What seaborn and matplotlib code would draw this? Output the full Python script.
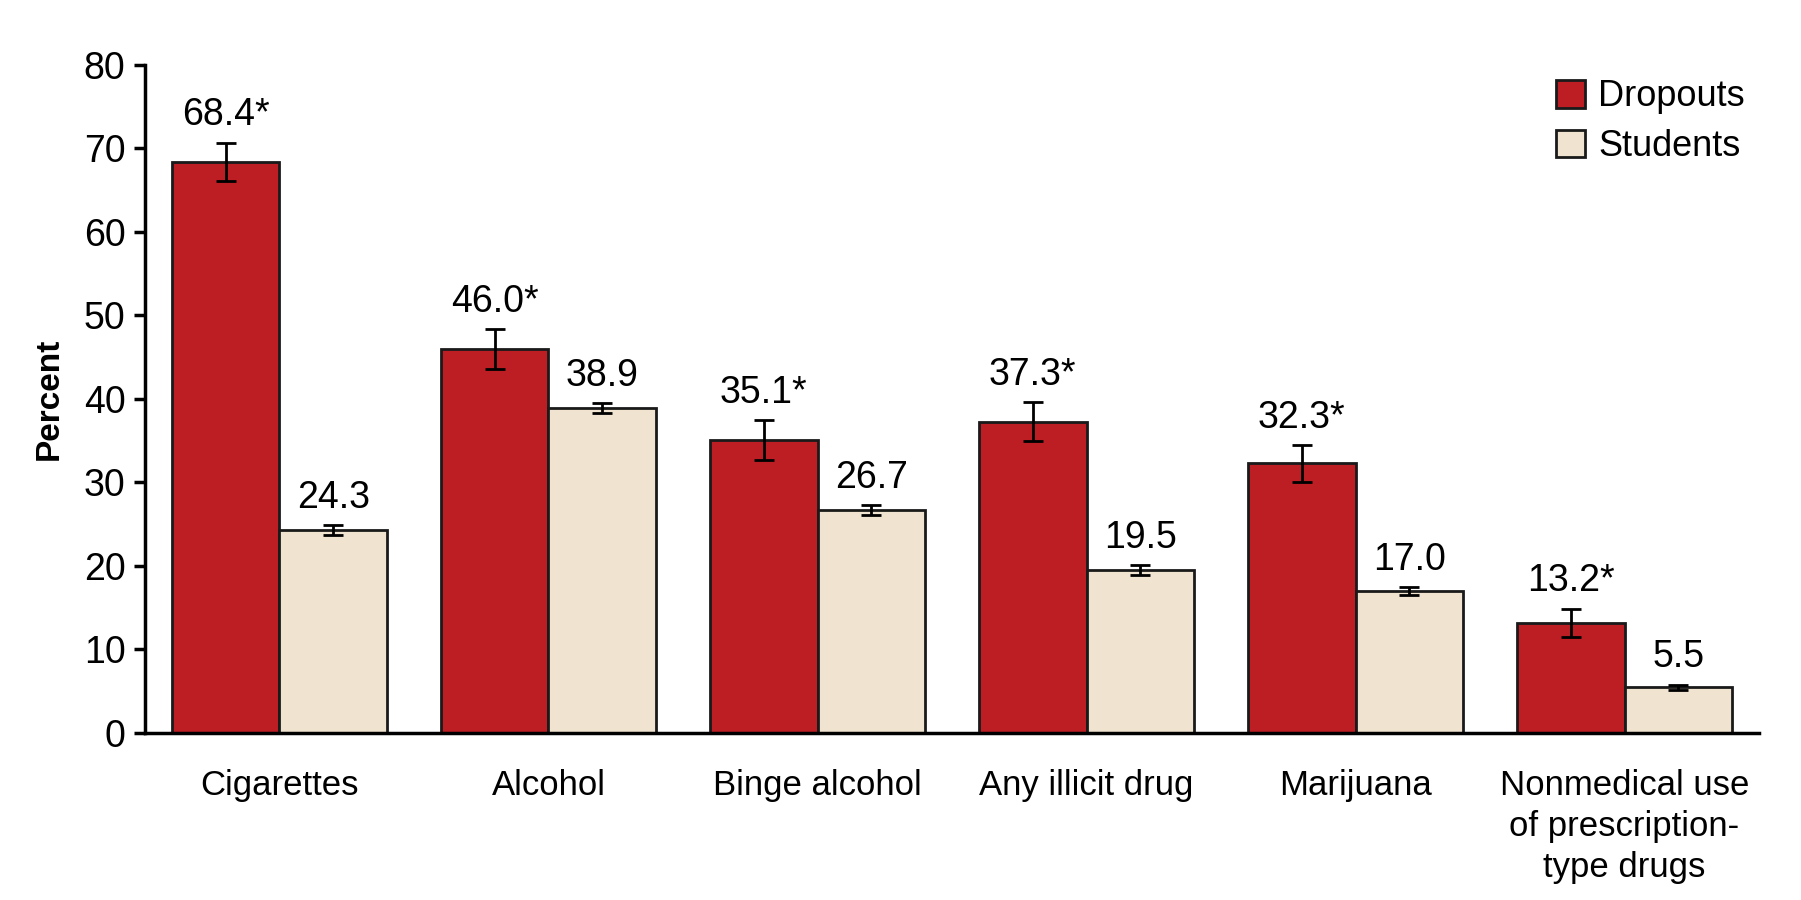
import matplotlib
matplotlib.use("Agg")
import matplotlib.pyplot as plt
from matplotlib import font_manager
import seaborn as sns
import pandas as pd

# data
categories = ['Cigarettes', 'Alcohol', 'Binge alcohol', 'Any illicit drug',
              'Marijuana', 'Nonmedical use\nof prescription-\ntype drugs']
dropouts = [68.4, 46.0, 35.1, 37.3, 32.3, 13.2]
students = [24.3, 38.9, 26.7, 19.5, 17.0, 5.5]
dropouts_err = [2.3, 2.4, 2.4, 2.3, 2.2, 1.7]
students_err = [0.6, 0.6, 0.6, 0.6, 0.5, 0.3]
dropouts_sig = [True, True, True, True, True, True]

sns.set_theme(style='white')
names = {f.name for f in font_manager.fontManager.ttflist}
fam = 'Liberation Sans Narrow' if 'Liberation Sans Narrow' in names else 'Liberation Sans'
plt.rcParams['font.family'] = [fam, 'DejaVu Sans']
plt.rcParams['text.color'] = 'black'
plt.rcParams['xtick.color'] = 'black'
plt.rcParams['ytick.color'] = 'black'
plt.rcParams['axes.labelcolor'] = 'black'

df = pd.DataFrame({
    'category': categories * 2,
    'value': dropouts + students,
    'group': ['Dropouts'] * len(categories) + ['Students'] * len(categories),
})

fig = plt.figure(figsize=(18.01, 9), dpi=100)
ax = fig.add_axes([0.0805, 0.1856, 0.8962, 0.7422])

sns.barplot(data=df, x='category', y='value', hue='group',
            palette={'Dropouts': '#BC1E24', 'Students': '#F0E4D0'},
            edgecolor='#1a1a1a', linewidth=2, errorbar=None, width=0.8,
            saturation=1, ax=ax)

# error bars and value labels on top of each bar
bars = ax.patches[:len(categories) * 2]
vals = dropouts + students
errs = dropouts_err + students_err
labels = [f'{v:.1f}' + ('*' if s else '') for v, s in zip(dropouts, dropouts_sig)] + \
         [f'{v:.1f}' for v in students]
for p, v, e, lab in zip(bars, vals, errs, labels):
    cx = p.get_x() + p.get_width() / 2
    ax.errorbar(cx, v, yerr=e, color='black', capsize=7, capthick=2,
                elinewidth=2, fmt='none')
    ax.text(cx, v + e + 1.1, lab, ha='center', va='bottom', fontsize=27)

ax.set_ylim(0, 80)
ax.set_xlim(-0.5, len(categories) - 0.5)
ax.set_yticks(range(0, 81, 10))
ax.set_ylabel('Percent', fontsize=24, fontweight='bold', labelpad=14)
ax.set_xlabel('')
ax.tick_params(axis='y', labelsize=27, length=8, width=2.5, direction='out',
               left=True, pad=6)
ax.tick_params(axis='x', labelsize=25, length=0, pad=26)
for t in ax.get_xticklabels():
    t.set_linespacing(1.3)
sns.despine(ax=ax)
for s in ['left', 'bottom']:
    ax.spines[s].set_linewidth(2.5)
    ax.spines[s].set_color('black')

leg = ax.legend(loc='upper right', bbox_to_anchor=(1.0, 1.0), frameon=False,
                fontsize=26, handlelength=0.8, handleheight=0.8,
                handletextpad=0.35, labelspacing=0.4, borderaxespad=0.0)

fig.savefig('out.png', dpi=100)
